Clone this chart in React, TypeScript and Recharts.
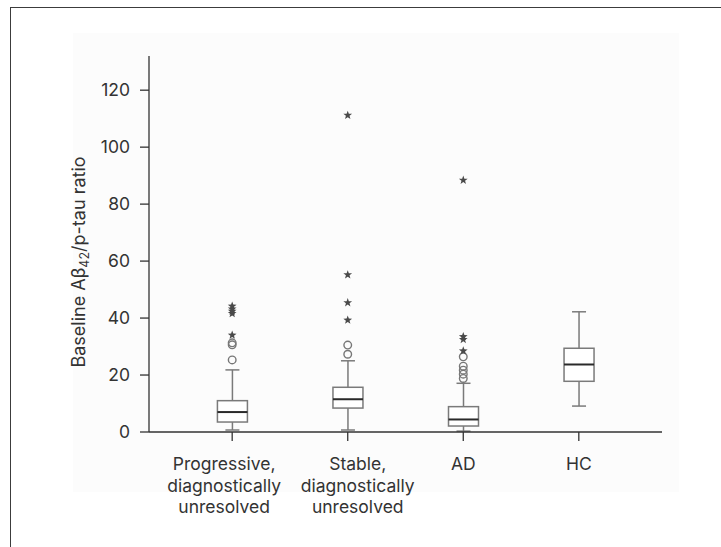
import React from "react";
import { ComposedChart, Bar, Scatter, XAxis, YAxis } from "recharts";

// ---- data ----
const categoryPositions = [1, 2, 3, 4];
const categoryLabels = [
  ["Progressive,", "diagnostically", "unresolved"],
  ["Stable,", "diagnostically", "unresolved"],
  ["AD"],
  ["HC"],
];
const whiskerLow = [0.7, 0.7, 0.3, 9.1];
const quartile1 = [3.5, 8.4, 2.1, 17.8];
const medians = [7.0, 11.5, 4.4, 23.7];
const quartile3 = [11.0, 15.7, 8.9, 29.4];
const whiskerHigh = [21.8, 25.0, 17.1, 42.2];
const circleOutliers = [
  [25.3, 30.6, 31.3],
  [27.3, 30.5],
  [18.8, 20.3, 21.7, 23.1, 26.4],
  [],
];
const starOutliers = [
  [34.0, 41.6, 42.4, 43.2, 44.2],
  [39.3, 45.4, 55.2, 111.2],
  [28.5, 32.5, 33.5, 88.4],
  [],
];
const yTicks = [0, 20, 40, 60, 80, 100, 120];

// ---- derived tables ----
const boxRows = categoryPositions.map((x, i) => ({
  x,
  range: [whiskerLow[i], whiskerHigh[i]],
  lo: whiskerLow[i],
  q1: quartile1[i],
  med: medians[i],
  q3: quartile3[i],
  hi: whiskerHigh[i],
}));
const circlePoints = categoryPositions.flatMap((x, i) =>
  circleOutliers[i].map((y) => ({ x, y }))
);
const starPoints = categoryPositions.flatMap((x, i) =>
  starOutliers[i].map((y) => ({ x, y }))
);

const labelShift = [-8, 10, 0, 0];
const FONT = "Inter, 'Open Sans', sans-serif";

const BoxShape = (props: any) => {
  const { x, y, width, height, payload } = props;
  if (x == null || y == null) return null;
  const top = Math.min(y, y + height);
  const bottom = Math.max(y, y + height);
  const { lo, hi, q1, q3, med } = payload;
  const py = (v: number) => bottom - ((v - lo) / (hi - lo)) * (bottom - top);
  const cx = x + width / 2;
  const cap = 7;
  const gray = "#7a7a7a";
  return (
    <g>
      <line x1={cx} x2={cx} y1={py(hi)} y2={py(q3)} stroke={gray} strokeWidth={1.5} />
      <line x1={cx} x2={cx} y1={py(q1)} y2={py(lo)} stroke={gray} strokeWidth={1.5} />
      <line x1={cx - cap} x2={cx + cap} y1={py(hi)} y2={py(hi)} stroke={gray} strokeWidth={1.5} />
      <line x1={cx - cap} x2={cx + cap} y1={py(lo)} y2={py(lo)} stroke={gray} strokeWidth={1.5} />
      <rect
        x={x}
        y={py(q3)}
        width={width}
        height={py(q1) - py(q3)}
        fill="#ffffff"
        stroke={gray}
        strokeWidth={1.5}
      />
      <line x1={x} x2={x + width} y1={py(med)} y2={py(med)} stroke="#2a2a2a" strokeWidth={2} />
    </g>
  );
};

const CircleShape = (props: any) => {
  const { cx, cy } = props;
  return <circle cx={cx} cy={cy} r={3.8} fill="none" stroke="#777" strokeWidth={1.4} />;
};

const StarShape = (props: any) => {
  const { cx, cy } = props;
  const pts: string[] = [];
  for (let k = 0; k < 10; k++) {
    const r = k % 2 === 0 ? 4.6 : 1.9;
    const a = -Math.PI / 2 + (k * Math.PI) / 5;
    pts.push(`${cx + r * Math.cos(a)},${cy + r * Math.sin(a)}`);
  }
  return <polygon points={pts.join(" ")} fill="#4a4a4a" />;
};

const XTick = (props: any) => {
  const { x, y, payload } = props;
  const idx = categoryPositions.indexOf(payload.value);
  const lines = categoryLabels[idx] || [];
  const dx = labelShift[idx] || 0;
  return (
    <g transform={`translate(${x},${y})`}>
      <text textAnchor="middle" fill="#333" fontSize={17.5} fontFamily={FONT}>
        {lines.map((l, i) => (
          <tspan key={i} x={dx} dy={i === 0 ? 27 : 21.5}>
            {l}
          </tspan>
        ))}
      </text>
    </g>
  );
};

const YLabel = () => (
  <text
    x={85}
    y={262}
    transform="rotate(-90, 85, 262)"
    textAnchor="middle"
    fill="#333"
    fontSize={18}
    fontFamily={FONT}
  >
    <tspan>Baseline Aβ</tspan>
    <tspan fontSize={12.5} dy={4}>42</tspan>
    <tspan dy={-4}>/p-tau ratio</tspan>
  </text>
);

export default function App() {
  return (
    <div style={{ position: "absolute", left: 0, top: 0, width: 721, height: 547, background: "#fff", fontFamily: FONT }}>
      <div
        style={{
          position: "absolute",
          left: 10,
          top: 7,
          width: 711,
          height: 540,
          borderTop: "1.5px solid #3c3c3c",
          borderLeft: "1.5px solid #3c3c3c",
          boxSizing: "border-box",
        }}
      />
      <div style={{ position: "absolute", left: 73, top: 33, width: 606, height: 459, background: "#fcfcfc" }} />
      <div style={{ position: "absolute", left: 0, top: 0 }}>
        <ComposedChart
          width={721}
          height={547}
          data={boxRows}
          margin={{ top: 56, right: 59, bottom: 85, left: 89 }}
        >
          <XAxis
            dataKey="x"
            type="number"
            domain={[0.28, 4.72]}
            ticks={categoryPositions}
            allowDataOverflow
            height={30}
            tickSize={9}
            tick={<XTick />}
            axisLine={{ stroke: "#333", strokeWidth: 1.3 }}
            tickLine={{ stroke: "#333", strokeWidth: 1.3 }}
            interval={0}
          />
          <YAxis
            type="number"
            domain={[0, 132]}
            ticks={yTicks}
            allowDataOverflow
            width={60}
            tickSize={9}
            tickMargin={10}
            tick={{ fill: "#333", fontSize: 17.5, fontFamily: FONT }}
            axisLine={{ stroke: "#333", strokeWidth: 1.3 }}
            tickLine={{ stroke: "#333", strokeWidth: 1.3 }}
            label={<YLabel />}
          />
          <Bar dataKey="range" barSize={30} shape={<BoxShape />} isAnimationActive={false} />
          <Scatter data={circlePoints} dataKey="y" shape={<CircleShape />} isAnimationActive={false} />
          <Scatter data={starPoints} dataKey="y" shape={<StarShape />} isAnimationActive={false} />
        </ComposedChart>
      </div>
    </div>
  );
}
